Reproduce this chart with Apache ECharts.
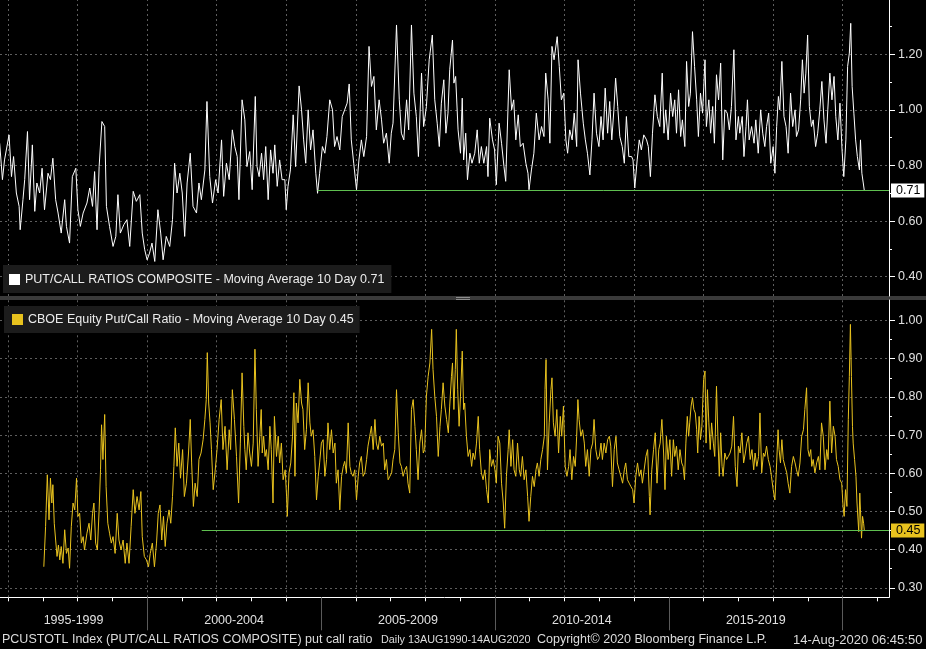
<!DOCTYPE html>
<html>
<head>
<meta charset="utf-8">
<title>Put/Call Ratios - Moving Average 10 Day</title>
<script src="https://cdn.jsdelivr.net/npm/echarts@6.0.0/dist/echarts.min.js"></script>
<style>
  html, body { margin: 0; padding: 0; background: #000; }
  #main { width: 926px; height: 649px; }
</style>
</head>
<body>
<div id="main"></div>
<script>
// PUT/CALL RATIOS COMPOSITE, 10 day moving average: [decimal year, value]
var compositePoints = [
  [1995.76,0.880],[1995.84,0.749],[1995.90,0.820],[1996.03,0.910],[1996.10,0.760],[1996.16,0.832],[1996.24,0.701],[1996.32,0.653],
  [1996.35,0.569],[1996.43,0.677],[1996.48,0.749],[1996.56,0.922],[1996.62,0.677],[1996.70,0.874],[1996.77,0.635],[1996.83,0.737],
  [1996.91,0.701],[1996.98,0.790],[1997.05,0.641],[1997.15,0.772],[1997.22,0.749],[1997.29,0.826],[1997.37,0.677],[1997.44,0.629],
  [1997.53,0.557],[1997.63,0.677],[1997.68,0.581],[1997.77,0.521],[1997.85,0.760],[1997.95,0.790],[1998.01,0.641],[1998.08,0.581],
  [1998.16,0.629],[1998.27,0.665],[1998.35,0.719],[1998.43,0.653],[1998.49,0.778],[1998.56,0.569],[1998.62,0.796],[1998.70,0.958],
  [1998.78,0.940],[1998.83,0.653],[1998.92,0.581],[1999.02,0.509],[1999.10,0.545],[1999.16,0.695],[1999.23,0.557],[1999.33,0.587],
  [1999.42,0.605],[1999.50,0.509],[1999.60,0.707],[1999.69,0.671],[1999.79,0.695],[1999.86,0.557],[1999.93,0.497],[2000.00,0.461],
  [2000.07,0.485],[2000.14,0.521],[2000.22,0.455],[2000.31,0.641],[2000.39,0.557],[2000.46,0.461],[2000.55,0.545],[2000.65,0.509],
  [2000.73,0.605],[2000.79,0.808],[2000.86,0.701],[2000.94,0.772],[2001.01,0.701],[2001.08,0.545],[2001.15,0.737],[2001.24,0.844],
  [2001.32,0.653],[2001.42,0.629],[2001.49,0.737],[2001.56,0.677],[2001.66,0.784],[2001.72,1.030],[2001.80,0.760],[2001.88,0.665],
  [2001.97,0.749],[2002.04,0.701],[2002.14,0.892],[2002.20,0.689],[2002.28,0.808],[2002.36,0.749],[2002.45,0.928],[2002.52,0.868],
  [2002.59,0.832],[2002.64,0.677],[2002.73,1.036],[2002.81,0.964],[2002.87,0.796],[2002.95,0.850],[2003.02,0.713],[2003.11,1.048],
  [2003.16,0.796],[2003.22,0.760],[2003.29,0.844],[2003.35,0.749],[2003.41,0.868],[2003.48,0.677],[2003.55,0.856],[2003.62,0.772],
  [2003.67,0.874],[2003.74,0.725],[2003.81,0.820],[2003.88,0.749],[2003.96,0.749],[2004.00,0.641],[2004.05,0.725],[2004.12,0.784],
  [2004.20,0.982],[2004.27,0.796],[2004.37,1.086],[2004.44,1.000],[2004.50,0.892],[2004.56,0.808],[2004.63,1.000],[2004.70,0.856],
  [2004.77,0.928],[2004.85,0.772],[2004.90,0.700],[2004.96,0.772],[2005.04,0.868],[2005.11,0.844],[2005.17,0.904],[2005.25,1.036],
  [2005.33,1.000],[2005.39,0.868],[2005.46,0.904],[2005.54,0.856],[2005.61,0.976],[2005.68,1.000],[2005.75,1.024],[2005.81,1.093],
  [2005.87,0.892],[2005.94,0.808],[2006.02,0.713],[2006.09,0.820],[2006.16,0.892],[2006.23,0.832],[2006.31,0.904],[2006.38,1.228],
  [2006.45,1.084],[2006.52,1.120],[2006.59,0.928],[2006.67,1.036],[2006.74,0.964],[2006.80,0.880],[2006.88,0.916],[2006.96,0.808],
  [2007.02,0.916],[2007.07,0.952],[2007.17,1.305],[2007.25,1.036],[2007.31,0.916],[2007.38,0.892],[2007.46,1.036],[2007.52,0.928],
  [2007.60,1.305],[2007.67,1.060],[2007.74,0.976],[2007.80,0.832],[2007.89,1.132],[2007.95,0.940],[2008.03,1.012],[2008.11,1.180],
  [2008.20,1.269],[2008.27,1.036],[2008.34,0.952],[2008.40,0.868],[2008.46,1.024],[2008.53,1.108],[2008.59,0.916],[2008.65,0.988],
  [2008.70,1.144],[2008.78,1.251],[2008.82,1.096],[2008.87,1.120],[2008.94,0.928],[2009.01,0.844],[2009.06,1.042],[2009.10,0.820],
  [2009.16,0.916],[2009.21,0.749],[2009.28,0.844],[2009.34,0.808],[2009.42,0.844],[2009.49,0.928],[2009.55,0.808],[2009.61,0.868],
  [2009.68,0.808],[2009.76,0.868],[2009.80,0.760],[2009.85,0.970],[2009.93,0.892],[2009.99,0.856],[2010.04,0.731],[2010.12,0.952],
  [2010.19,0.880],[2010.26,0.796],[2010.31,0.743],[2010.41,1.144],[2010.48,1.000],[2010.54,1.036],[2010.60,0.892],[2010.67,0.982],
  [2010.73,0.868],[2010.81,0.880],[2010.89,0.808],[2010.95,0.772],[2010.98,0.713],[2011.05,0.784],[2011.12,0.844],[2011.19,0.988],
  [2011.27,0.892],[2011.34,0.940],[2011.41,0.904],[2011.46,1.132],[2011.53,1.036],[2011.58,0.880],[2011.64,1.228],[2011.70,1.180],
  [2011.79,1.263],[2011.85,1.156],[2011.91,1.036],[2011.98,1.060],[2012.04,0.892],[2012.09,0.844],[2012.15,0.928],[2012.22,0.892],
  [2012.28,0.988],[2012.35,0.868],[2012.39,1.180],[2012.46,1.060],[2012.54,0.952],[2012.60,0.892],[2012.66,0.844],[2012.73,0.766],
  [2012.79,0.892],[2012.85,1.060],[2012.92,0.916],[2012.99,0.868],[2013.05,0.976],[2013.11,0.892],[2013.17,1.078],[2013.24,0.916],
  [2013.30,1.030],[2013.36,0.892],[2013.42,1.000],[2013.47,1.114],[2013.53,1.012],[2013.59,0.904],[2013.66,0.868],[2013.72,0.808],
  [2013.78,0.976],[2013.85,0.832],[2013.93,0.832],[2013.97,0.820],[2014.02,0.719],[2014.09,0.820],[2014.15,0.892],[2014.21,0.856],
  [2014.28,0.910],[2014.36,0.892],[2014.41,0.868],[2014.47,0.760],[2014.53,0.916],[2014.60,1.054],[2014.67,0.976],[2014.74,0.940],
  [2014.81,1.132],[2014.86,0.916],[2014.91,1.000],[2014.98,0.892],[2015.05,1.060],[2015.11,0.976],[2015.17,1.036],[2015.22,0.916],
  [2015.28,1.072],[2015.34,0.904],[2015.39,0.964],[2015.46,0.868],[2015.51,1.174],[2015.57,1.012],[2015.62,1.060],[2015.68,1.281],
  [2015.74,1.156],[2015.80,1.036],[2015.85,0.904],[2015.91,1.060],[2015.97,0.988],[2016.04,1.180],[2016.08,0.940],[2016.15,1.036],
  [2016.20,0.916],[2016.26,1.012],[2016.31,0.880],[2016.37,1.126],[2016.43,1.036],[2016.49,1.168],[2016.55,0.820],[2016.61,1.000],
  [2016.68,0.988],[2016.74,0.928],[2016.80,1.012],[2016.87,1.216],[2016.93,0.892],[2017.00,0.976],[2017.04,0.916],[2017.11,0.976],
  [2017.16,0.832],[2017.22,0.940],[2017.26,1.036],[2017.31,0.892],[2017.38,0.940],[2017.45,0.880],[2017.50,0.964],[2017.57,0.844],
  [2017.64,1.000],[2017.70,0.916],[2017.76,0.868],[2017.81,0.940],[2017.87,0.988],[2017.93,0.808],[2018.00,0.868],[2018.05,0.772],
  [2018.10,0.940],[2018.15,1.048],[2018.19,1.000],[2018.25,1.174],[2018.31,0.976],[2018.37,0.940],[2018.43,0.844],[2018.50,1.060],
  [2018.56,0.940],[2018.63,1.000],[2018.67,0.904],[2018.73,0.928],[2018.79,1.036],[2018.84,1.180],[2018.89,1.060],[2018.94,1.132],
  [2018.99,1.269],[2019.04,1.012],[2019.10,0.940],[2019.15,0.964],[2019.22,0.868],[2019.28,0.916],[2019.34,1.000],[2019.40,1.102],
  [2019.46,0.964],[2019.52,0.880],[2019.57,1.000],[2019.63,1.132],[2019.69,1.036],[2019.75,1.120],[2019.80,0.976],[2019.86,0.892],
  [2019.92,1.024],[2019.98,0.856],[2020.03,0.760],[2020.09,0.892],[2020.14,1.156],[2020.19,1.204],[2020.23,1.311],[2020.27,1.084],
  [2020.32,0.988],[2020.37,0.892],[2020.42,0.832],[2020.48,0.784],[2020.51,0.892],[2020.55,0.772],[2020.59,0.737],[2020.62,0.710]
];

// CBOE Equity Put/Call Ratio, 10 day moving average: [decimal year, value]
var equityPoints = [
  [1997.03,0.355],[1997.08,0.460],[1997.13,0.596],[1997.18,0.478],[1997.22,0.587],[1997.26,0.522],[1997.29,0.570],[1997.33,0.469],
  [1997.37,0.425],[1997.41,0.382],[1997.45,0.412],[1997.49,0.373],[1997.53,0.408],[1997.58,0.364],[1997.63,0.452],[1997.68,0.390],
  [1997.73,0.404],[1997.77,0.351],[1997.82,0.460],[1997.87,0.522],[1997.92,0.504],[1997.97,0.587],[1998.01,0.487],[1998.06,0.495],
  [1998.11,0.417],[1998.16,0.434],[1998.20,0.399],[1998.27,0.443],[1998.33,0.469],[1998.38,0.425],[1998.43,0.495],[1998.47,0.522],
  [1998.52,0.417],[1998.57,0.399],[1998.62,0.504],[1998.66,0.609],[1998.69,0.727],[1998.73,0.636],[1998.78,0.754],[1998.82,0.565],
  [1998.87,0.469],[1998.92,0.443],[1998.97,0.417],[1999.02,0.434],[1999.08,0.390],[1999.14,0.495],[1999.19,0.425],[1999.25,0.399],
  [1999.31,0.425],[1999.37,0.364],[1999.42,0.417],[1999.48,0.364],[1999.54,0.460],[1999.60,0.557],[1999.65,0.495],[1999.71,0.539],
  [1999.77,0.504],[1999.82,0.552],[1999.86,0.434],[1999.92,0.382],[1999.98,0.373],[2000.04,0.355],[2000.09,0.390],[2000.15,0.417],
  [2000.21,0.355],[2000.27,0.417],[2000.32,0.495],[2000.37,0.517],[2000.42,0.425],[2000.47,0.487],[2000.52,0.408],[2000.57,0.469],
  [2000.63,0.504],[2000.68,0.469],[2000.73,0.539],[2000.77,0.618],[2000.81,0.719],[2000.86,0.618],[2000.91,0.679],[2000.96,0.587],
  [2001.02,0.662],[2001.07,0.539],[2001.13,0.574],[2001.19,0.653],[2001.24,0.741],[2001.28,0.627],[2001.33,0.513],[2001.38,0.574],
  [2001.44,0.539],[2001.49,0.636],[2001.55,0.653],[2001.61,0.688],[2001.66,0.741],[2001.70,0.793],[2001.73,0.916],[2001.77,0.784],
  [2001.81,0.732],[2001.85,0.662],[2001.90,0.557],[2001.95,0.601],[2002.01,0.662],[2002.07,0.741],[2002.13,0.793],[2002.18,0.662],
  [2002.24,0.723],[2002.30,0.609],[2002.36,0.714],[2002.40,0.662],[2002.45,0.819],[2002.51,0.741],[2002.57,0.644],[2002.63,0.522],
  [2002.68,0.679],[2002.73,0.863],[2002.78,0.723],[2002.81,0.662],[2002.85,0.609],[2002.90,0.706],[2002.95,0.653],[2003.00,0.618],
  [2003.05,0.679],[2003.10,0.925],[2003.14,0.767],[2003.19,0.618],[2003.24,0.697],[2003.28,0.767],[2003.31,0.653],[2003.35,0.697],
  [2003.39,0.644],[2003.43,0.662],[2003.48,0.609],[2003.53,0.723],[2003.57,0.662],[2003.62,0.522],[2003.66,0.749],[2003.72,0.644],
  [2003.77,0.697],[2003.81,0.627],[2003.86,0.679],[2003.91,0.583],[2003.97,0.609],[2004.01,0.539],[2004.03,0.487],[2004.08,0.601],
  [2004.13,0.627],[2004.18,0.697],[2004.22,0.811],[2004.25,0.592],[2004.29,0.784],[2004.34,0.732],[2004.39,0.846],[2004.44,0.784],
  [2004.48,0.767],[2004.53,0.662],[2004.58,0.714],[2004.63,0.837],[2004.68,0.732],[2004.72,0.697],[2004.77,0.714],[2004.82,0.644],
  [2004.87,0.530],[2004.92,0.592],[2004.96,0.627],[2005.01,0.679],[2005.06,0.688],[2005.11,0.592],[2005.16,0.636],[2005.20,0.732],
  [2005.25,0.662],[2005.30,0.714],[2005.35,0.653],[2005.40,0.679],[2005.44,0.574],[2005.49,0.609],[2005.54,0.504],[2005.59,0.592],
  [2005.64,0.618],[2005.68,0.631],[2005.73,0.601],[2005.78,0.732],[2005.83,0.618],[2005.87,0.601],[2005.92,0.592],[2005.97,0.609],
  [2006.02,0.530],[2006.07,0.592],[2006.11,0.627],[2006.16,0.644],[2006.21,0.592],[2006.26,0.601],[2006.31,0.636],[2006.35,0.671],
  [2006.40,0.697],[2006.45,0.723],[2006.50,0.662],[2006.55,0.741],[2006.59,0.679],[2006.64,0.662],[2006.69,0.697],[2006.74,0.671],
  [2006.79,0.679],[2006.83,0.609],[2006.88,0.636],[2006.93,0.583],[2006.98,0.592],[2007.03,0.601],[2007.07,0.636],[2007.12,0.662],
  [2007.17,0.819],[2007.22,0.706],[2007.27,0.627],[2007.31,0.618],[2007.36,0.592],[2007.41,0.609],[2007.46,0.618],[2007.50,0.574],
  [2007.55,0.548],[2007.60,0.767],[2007.65,0.793],[2007.70,0.723],[2007.74,0.662],[2007.79,0.583],[2007.84,0.679],[2007.89,0.714],
  [2007.94,0.653],[2007.98,0.662],[2008.03,0.802],[2008.08,0.854],[2008.13,0.889],[2008.18,0.977],[2008.22,0.872],[2008.27,0.802],
  [2008.32,0.749],[2008.37,0.644],[2008.42,0.723],[2008.46,0.767],[2008.51,0.837],[2008.56,0.776],[2008.61,0.741],[2008.66,0.706],
  [2008.70,0.776],[2008.75,0.854],[2008.78,0.889],[2008.82,0.767],[2008.86,0.872],[2008.89,0.977],[2008.93,0.819],[2008.97,0.723],
  [2009.01,0.802],[2009.06,0.920],[2009.10,0.767],[2009.13,0.784],[2009.18,0.697],[2009.23,0.644],[2009.28,0.662],[2009.33,0.618],
  [2009.37,0.653],[2009.42,0.636],[2009.47,0.679],[2009.52,0.749],[2009.56,0.662],[2009.61,0.601],[2009.66,0.583],[2009.71,0.609],
  [2009.76,0.557],[2009.81,0.522],[2009.85,0.662],[2009.90,0.618],[2009.95,0.636],[2010.00,0.609],[2010.04,0.574],[2010.09,0.697],
  [2010.14,0.679],[2010.19,0.574],[2010.24,0.522],[2010.28,0.456],[2010.33,0.592],[2010.38,0.662],[2010.41,0.714],[2010.46,0.618],
  [2010.51,0.688],[2010.55,0.609],[2010.60,0.592],[2010.65,0.679],[2010.70,0.609],[2010.74,0.592],[2010.79,0.644],[2010.84,0.583],
  [2010.89,0.609],[2010.94,0.539],[2010.98,0.474],[2011.03,0.539],[2011.08,0.592],[2011.13,0.565],[2011.18,0.609],[2011.22,0.627],
  [2011.27,0.592],[2011.32,0.636],[2011.37,0.662],[2011.42,0.697],[2011.44,0.819],[2011.47,0.898],[2011.51,0.609],[2011.56,0.732],
  [2011.61,0.819],[2011.64,0.850],[2011.68,0.732],[2011.73,0.697],[2011.78,0.767],[2011.83,0.653],[2011.88,0.749],[2011.92,0.697],
  [2011.97,0.776],[2012.02,0.618],[2012.07,0.592],[2012.12,0.618],[2012.16,0.662],[2012.21,0.583],[2012.26,0.644],[2012.31,0.618],
  [2012.35,0.697],[2012.385,0.793],[2012.42,0.741],[2012.47,0.697],[2012.52,0.714],[2012.57,0.679],[2012.61,0.618],[2012.66,0.662],
  [2012.71,0.592],[2012.76,0.662],[2012.81,0.679],[2012.85,0.741],[2012.90,0.662],[2012.95,0.636],[2013.00,0.644],[2013.05,0.679],
  [2013.09,0.636],[2013.14,0.679],[2013.19,0.653],[2013.24,0.688],[2013.29,0.697],[2013.33,0.671],[2013.38,0.565],[2013.43,0.662],
  [2013.48,0.697],[2013.52,0.627],[2013.57,0.609],[2013.62,0.592],[2013.67,0.574],[2013.72,0.609],[2013.76,0.627],[2013.81,0.583],
  [2013.86,0.574],[2013.91,0.565],[2013.96,0.557],[2014.00,0.522],[2014.05,0.592],[2014.10,0.627],[2014.15,0.592],[2014.20,0.609],
  [2014.24,0.574],[2014.29,0.609],[2014.34,0.644],[2014.39,0.662],[2014.44,0.539],[2014.46,0.491],[2014.51,0.609],[2014.56,0.662],
  [2014.61,0.706],[2014.66,0.574],[2014.71,0.662],[2014.75,0.679],[2014.80,0.741],[2014.85,0.653],[2014.89,0.557],[2014.93,0.697],
  [2014.98,0.636],[2015.03,0.688],[2015.08,0.592],[2015.13,0.688],[2015.17,0.644],[2015.22,0.671],[2015.27,0.609],[2015.32,0.662],
  [2015.37,0.627],[2015.41,0.618],[2015.45,0.583],[2015.49,0.679],[2015.53,0.749],[2015.57,0.697],[2015.60,0.732],[2015.64,0.776],
  [2015.68,0.798],[2015.72,0.767],[2015.76,0.758],[2015.80,0.714],[2015.83,0.653],[2015.87,0.749],[2015.91,0.688],[2015.95,0.723],
  [2016.00,0.846],[2016.04,0.868],[2016.07,0.679],[2016.11,0.819],[2016.15,0.732],[2016.19,0.662],[2016.23,0.732],[2016.28,0.679],
  [2016.32,0.644],[2016.37,0.828],[2016.41,0.697],[2016.45,0.592],[2016.49,0.706],[2016.53,0.618],[2016.56,0.592],[2016.61,0.653],
  [2016.66,0.636],[2016.71,0.644],[2016.76,0.653],[2016.81,0.671],[2016.86,0.749],[2016.91,0.618],[2016.96,0.565],[2017.00,0.671],
  [2017.05,0.653],[2017.10,0.706],[2017.15,0.627],[2017.20,0.653],[2017.24,0.679],[2017.29,0.697],[2017.34,0.636],[2017.39,0.662],
  [2017.44,0.609],[2017.48,0.653],[2017.53,0.618],[2017.58,0.644],[2017.62,0.758],[2017.67,0.601],[2017.72,0.653],[2017.76,0.644],
  [2017.81,0.671],[2017.86,0.636],[2017.91,0.618],[2017.95,0.592],[2018.00,0.557],[2018.05,0.530],[2018.10,0.627],[2018.14,0.714],
  [2018.17,0.662],[2018.21,0.627],[2018.25,0.688],[2018.29,0.636],[2018.34,0.618],[2018.39,0.601],[2018.43,0.574],[2018.48,0.548],
  [2018.53,0.618],[2018.58,0.644],[2018.63,0.627],[2018.67,0.609],[2018.72,0.592],[2018.77,0.627],[2018.82,0.697],[2018.87,0.714],
  [2018.91,0.767],[2018.96,0.824],[2019.00,0.662],[2019.04,0.644],[2019.08,0.662],[2019.11,0.618],[2019.15,0.636],[2019.20,0.601],
  [2019.25,0.627],[2019.30,0.644],[2019.34,0.609],[2019.39,0.732],[2019.44,0.697],[2019.49,0.609],[2019.54,0.662],[2019.58,0.636],
  [2019.63,0.789],[2019.68,0.653],[2019.73,0.723],[2019.78,0.697],[2019.82,0.636],[2019.87,0.618],[2019.92,0.583],[2019.97,0.574],
  [2020.01,0.513],[2020.04,0.487],[2020.08,0.557],[2020.12,0.513],[2020.16,0.741],[2020.19,0.854],[2020.22,0.990],[2020.25,0.854],
  [2020.28,0.723],[2020.30,0.679],[2020.34,0.636],[2020.38,0.592],[2020.41,0.522],[2020.46,0.447],[2020.49,0.548],[2020.51,0.504],
  [2020.54,0.430],[2020.57,0.487],[2020.60,0.469],[2020.62,0.450]
];

var compositeName = 'PUT/CALL RATIOS COMPOSITE - Moving Average 10 Day';
var equityName = 'CBOE Equity Put/Call Ratio - Moving Average 10 Day';

var topTicks = [0.4, 0.6, 0.8, 1.0, 1.2];
var topMinorTicks = [0.5, 0.7, 0.9, 1.1, 1.3];
var bottomTicks = [0.3, 0.4, 0.5, 0.6, 0.7, 0.8, 0.9, 1.0];
var bottomMinorTicks = [0.35, 0.45, 0.55, 0.65, 0.75, 0.85, 0.95];
var yearTicks = [1996, 1997, 1998, 1999, 2000, 2001, 2002, 2003, 2004, 2005, 2006, 2007, 2008,
                 2009, 2010, 2011, 2012, 2013, 2014, 2015, 2016, 2017, 2018, 2019, 2020, 2021];
var gridYears = [1996, 1998, 2000, 2002, 2004, 2006, 2008, 2010, 2012, 2014, 2016, 2018, 2020];
var periodNames = ['1995-1999', '2000-2004', '2005-2009', '2010-2014', '2015-2019'];
var periodStarts = [1995, 2000, 2005, 2010, 2015];
var periodBreaks = [2000, 2005, 2010, 2015, 2020];
// where the green "last value" lines begin
var compositeLineFrom = 2004.90;
var equityLineFrom = 2001.57;

var xMin = 1995.77, xMax = 2021.33;
// value ranges of the two panels (chosen so the last-value lines land on whole pixels)
var topMin = 0.3308, topMax = 1.3948;
var bottomMin = 0.2750, bottomMax = 1.0539;

var font = '"Liberation Sans", Arial, sans-serif';
var white = '#ffffff', yellow = '#e8c21e', green = '#5fbf50', gridColor = '#5e5e5e';

var lastComposite = compositePoints[compositePoints.length - 1][1].toFixed(2);
var lastEquity = equityPoints[equityPoints.length - 1][1].toFixed(2);

// label sits in the middle of the visible part of each 5 year block
var periodCenters = periodStarts.map(function (s) {
    return (Math.max(s, xMin) + Math.min(s + 5, xMax)) / 2;
});

function marks(values, key) {
    return values.map(function (v) { var o = {}; o[key] = v; return o; });
}

function gridSeries(xi, yi, hValues) {
    return {
        type: 'line', xAxisIndex: xi, yAxisIndex: yi, data: [], silent: true,
        markLine: {
            z: 1, silent: true, animation: false, symbol: ['none', 'none'],
            label: { show: false },
            emphasis: { disabled: true },
            lineStyle: { color: gridColor, type: [2, 3], width: 1 },
            data: marks(gridYears, 'xAxis').concat(marks(hValues, 'yAxis'))
        }
    };
}

function valueAxis(gridIndex, min, max, ticks, tickLen, labels) {
    return {
        type: 'value', gridIndex: gridIndex, position: 'right', min: min, max: max,
        axisLine: { show: labels, onZero: false, lineStyle: { color: white, width: 1 } },
        axisTick: { show: true, customValues: ticks, length: tickLen, lineStyle: { color: white } },
        axisLabel: {
            show: labels, customValues: ticks, margin: 9, color: '#e0e0e0',
            fontFamily: font, fontSize: 12.5,
            formatter: function (v) { return v.toFixed(2); }
        },
        splitLine: { show: false }
    };
}

// green line at the last value, with its value tag on the axis
function lastLineSeries(xi, yi, from, value, label, bg) {
    var style = { color: green, type: 'solid', width: 1, opacity: 1 };
    return {
        type: 'line', xAxisIndex: xi, yAxisIndex: yi, data: [], silent: true,
        color: green, lineStyle: { color: green },
        markLine: {
            z: 5, silent: true, animation: false, symbol: ['none', 'none'],
            lineStyle: style,
            label: {
                show: true, position: 'end', distance: 2, formatter: label,
                backgroundColor: bg, color: '#000', padding: [1, 4, 0, 5],
                fontFamily: font, fontSize: 12.5
            },
            emphasis: { disabled: true },
            data: [[{ coord: [from, value] }, { coord: [xMax, value] }]]
        }
    };
}

function legendFor(name, left, top, padding) {
    return {
        data: [{ name: name, icon: 'rect' }], left: left, top: top, padding: padding,
        orient: 'horizontal', selectedMode: false,
        backgroundColor: '#1c1c1c', borderRadius: 0,
        itemWidth: 11, itemHeight: 11, itemGap: 5,
        textStyle: { color: '#ececec', fontFamily: font, fontSize: 12.5 },
        formatter: function (n) { return n + ' ' + (n === compositeName ? lastComposite : lastEquity); }
    };
}

function footText(x, text, size) {
    return {
        type: 'text', x: x, y: 640, silent: true,
        style: { text: text, fill: '#dcdcdc', font: (size || 12.5) + 'px ' + font, verticalAlign: 'middle' }
    };
}

var myChart = echarts.init(document.getElementById('main'));

myChart.setOption({
    backgroundColor: '#000',
    animation: false,
    grid: [
        { left: 0, right: 37, top: 0, height: 296, outerBoundsMode: 'none' },
        { left: 0, right: 37, top: 300, height: 297.3, outerBoundsMode: 'none' }
    ],
    xAxis: [
        { type: 'value', gridIndex: 0, min: xMin, max: xMax, show: false },
        {
            type: 'value', gridIndex: 1, min: xMin, max: xMax, position: 'bottom',
            axisLine: { show: true, onZero: false, lineStyle: { color: white, width: 1 } },
            axisTick: { show: true, customValues: yearTicks, length: 4, lineStyle: { color: white } },
            axisLabel: {
                show: true, customValues: periodCenters, margin: 17, color: '#e0e0e0',
                fontFamily: font, fontSize: 12.5,
                formatter: function (v) {
                    for (var i = 0; i < periodCenters.length; i++) {
                        if (Math.abs(periodCenters[i] - v) < 0.01) return periodNames[i];
                    }
                    return '';
                }
            },
            splitLine: { show: false }
        },
        {
            // long separators between the 5 year blocks
            type: 'value', gridIndex: 1, min: xMin, max: xMax, position: 'bottom',
            axisLine: { show: false, onZero: false },
            axisTick: { show: true, customValues: periodBreaks, length: 33, lineStyle: { color: '#5a5a5a' } },
            axisLabel: { show: false },
            splitLine: { show: false }
        }
    ],
    yAxis: [
        valueAxis(0, topMin, topMax, topTicks, 6, true),
        valueAxis(0, topMin, topMax, topMinorTicks, 3, false),
        valueAxis(1, bottomMin, bottomMax, bottomTicks, 6, true),
        valueAxis(1, bottomMin, bottomMax, bottomMinorTicks, 3, false)
    ],
    legend: [
        legendFor(compositeName, 3, 265, [8, 7, 7, 6]),
        legendFor(equityName, 4, 306, [7, 6, 7, 8])
    ],
    series: [
        gridSeries(0, 0, topTicks),
        gridSeries(1, 2, bottomTicks),
        {
            name: compositeName, type: 'line', xAxisIndex: 0, yAxisIndex: 0,
            data: compositePoints, showSymbol: false, symbol: 'none', z: 2,
            color: white, lineStyle: { color: white, width: 1 }
        },
        {
            name: equityName, type: 'line', xAxisIndex: 1, yAxisIndex: 2,
            data: equityPoints, showSymbol: false, symbol: 'none', z: 2,
            color: yellow, lineStyle: { color: yellow, width: 1 }
        },
        lastLineSeries(0, 0, compositeLineFrom, Number(lastComposite), lastComposite, '#ffffff'),
        lastLineSeries(1, 2, equityLineFrom, Number(lastEquity), lastEquity, yellow)
    ],
    graphic: [
        { type: 'rect', silent: true, shape: { x: 0, y: 296, width: 926, height: 4 }, style: { fill: '#3a3a3a' } },
        { type: 'line', silent: true, shape: { x1: 456, y1: 297.5, x2: 470, y2: 297.5 }, style: { stroke: '#8c8c8c', lineWidth: 1 } },
        { type: 'line', silent: true, shape: { x1: 456, y1: 299.5, x2: 470, y2: 299.5 }, style: { stroke: '#8c8c8c', lineWidth: 1 } },
        footText(2, 'PCUSTOTL Index (PUT/CALL RATIOS COMPOSITE) put call ratio'),
        footText(381, 'Daily 13AUG1990-14AUG2020', 10.8),
        footText(537, 'Copyright\u00a9 2020 Bloomberg Finance L.P.'),
        footText(793, '14-Aug-2020 06:45:50', 13)
    ]
});
</script>
</body>
</html>
